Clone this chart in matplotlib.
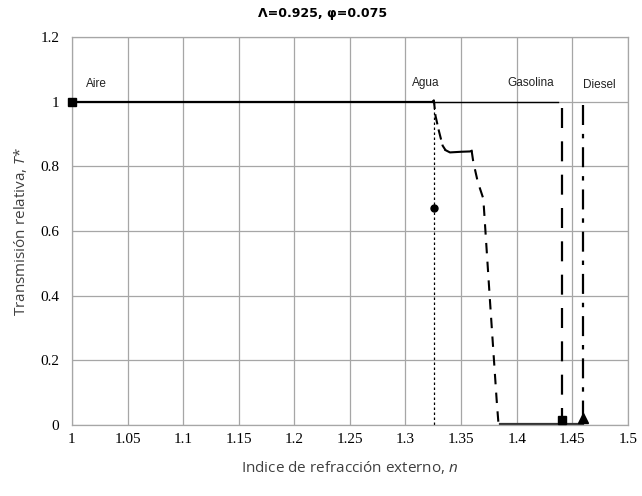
import numpy as np
import matplotlib
matplotlib.use("Agg")
import matplotlib.pyplot as plt

# ----------------------
# Data
# ----------------------
# main transmission curve (flat / steep parts)
n_flat_top = [1.0, 1.3245]
t_flat_top = [1.0, 1.0]
n_drop1 = [1.3245, 1.3255, 1.327, 1.330, 1.3334, 1.336]
t_drop1 = [1.0, 1.004, 0.956, 0.91, 0.864, 0.85]
n_plateau = [1.336, 1.340, 1.350, 1.358, 1.3595]
t_plateau = [0.85, 0.843, 0.845, 0.846, 0.848]
n_drop2 = [1.3595, 1.361, 1.365, 1.370, 1.376, 1.382, 1.3835, 1.385]
t_drop2 = [0.848, 0.813, 0.752, 0.70, 0.383, 0.077, 0.01, 0.003]
n_floor = [1.385, 1.46]
t_floor = [0.003, 0.003]

# thin reference line at T*=1
n_top = [1.3245, 1.437]
t_top = [1.0, 1.0]

# fluid lines
n_agua = [1.3258, 1.3258]
t_agua = [1.0, 0.0]
n_gasolina = [1.441, 1.441]
t_gasolina = [0.98, 0.0]
n_diesel = [1.460, 1.460]
t_diesel = [0.99, 0.0]

# markers
marker_n = [1.0, 1.3258, 1.441, 1.460]
marker_t = [1.0, 0.67, 0.015, 0.022]
marker_sym = ["s", "o", "s", "^"]
marker_size = [6, 5, 6, 6.5]

labels = ["Aire", "Agua", "Gasolina", "Diesel"]
label_n = [1.022, 1.318, 1.4125, 1.474]
label_t = [1.053, 1.058, 1.058, 1.05]

xticks = [1, 1.05, 1.1, 1.15, 1.2, 1.25, 1.3, 1.35, 1.4, 1.45, 1.5]
xtick_labels = ["1", "1.05", "1.1", "1.15", "1.2", "1.25", "1.3", "1.35", "1.4", "1.45", "1.5"]
yticks = [0, 0.2, 0.4, 0.6, 0.8, 1, 1.2]
ytick_labels = ["0", "0.2", "0.4", "0.6", "0.8", "1", "1.2"]

plt.rcParams["mathtext.fontset"] = "custom"
plt.rcParams["mathtext.it"] = "Open Sans:italic"
plt.rcParams["mathtext.rm"] = "Open Sans"

fig = plt.figure(figsize=(6.42, 4.96), dpi=100)
ax = fig.add_axes([0.112, 0.143, 0.866, 0.7825])

# curves
ax.plot(n_flat_top, t_flat_top, color="black", lw=1.6, solid_capstyle="butt")
ax.plot(n_top, t_top, color="black", lw=1.0)
ax.plot(n_drop1, t_drop1, color="black", lw=1.5, dashes=(5, 2.5))
ax.plot(n_plateau, t_plateau, color="black", lw=1.5)
ax.plot(n_drop2, t_drop2, color="black", lw=1.5, dashes=(5, 4))
ax.plot(n_floor, t_floor, color="#333333", lw=1.6)

ax.plot(n_agua, t_agua, color="black", lw=0.9, dashes=(2, 2))
ax.plot(n_gasolina, t_gasolina, color="black", lw=1.6, dashes=(9, 6))
ax.plot(n_diesel, t_diesel, color="black", lw=1.6, dashes=(9, 4, 2, 4))

for mn, mt, ms, sz in zip(marker_n, marker_t, marker_sym, marker_size):
    ax.plot([mn], [mt], marker=ms, color="black", markersize=sz, linestyle="none",
            clip_on=False, zorder=5)

for lab, ln, lt in zip(labels, label_n, label_t):
    ax.text(ln, lt, lab, ha="center", va="center", fontsize=8.5,
            family="Liberation Sans", color="#222222")

ax.set_xlim(1, 1.5)
ax.set_ylim(0, 1.2)
ax.set_xticks(xticks)
ax.set_xticklabels(xtick_labels)
ax.set_yticks(yticks)
ax.set_yticklabels(ytick_labels)
ax.tick_params(length=0, labelsize=11)
ax.tick_params(axis="x", pad=6)
ax.tick_params(axis="y", pad=9)
for lab in ax.get_xticklabels() + ax.get_yticklabels():
    lab.set_family("Liberation Serif")

ax.grid(True, color="#a6a6a6", lw=0.9)
ax.set_axisbelow(True)
for sp in ax.spines.values():
    sp.set_color("#a6a6a6")
    sp.set_linewidth(0.9)

ax.set_xlabel(r"Indice de refracción externo, $\mathit{n}$", fontsize=11,
              family="Open Sans", color="#404040", labelpad=9)
ax.set_ylabel(r"Transmisión relativa, $\mathit{T}$*", fontsize=11,
              family="Open Sans", color="#404040", labelpad=8)

fig.text(0.503, 0.972, "Λ=0.925, φ=0.075", ha="center", va="center",
         fontsize=9, fontweight="bold", family="DejaVu Sans")

fig.savefig("out.png", dpi=100)
